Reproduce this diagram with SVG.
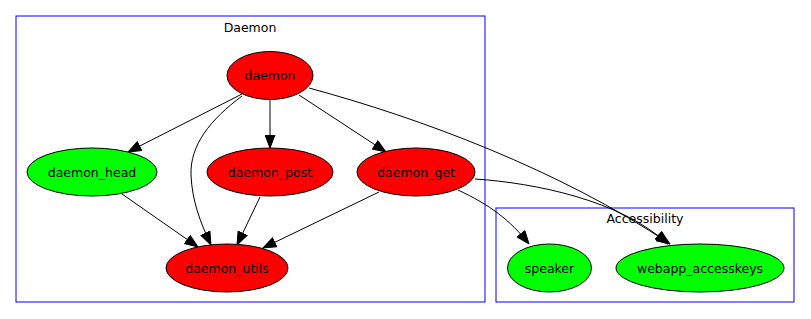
<svg xmlns="http://www.w3.org/2000/svg" width="811" height="319" viewBox="0 0 811 319">
<defs>
<marker id="arr" markerWidth="14" markerHeight="11" refX="13.5" refY="5.5" orient="auto" markerUnits="userSpaceOnUse">
<polygon points="0.5,0.5 13.5,5.5 0.5,10.5" fill="#000" stroke="#000" stroke-width="1"/>
</marker>
</defs>
<style>
text{font-family:"DejaVu Sans",sans-serif;font-size:12.5px;text-anchor:middle;fill:#000}
.cl{fill:none;stroke:#0000ff;stroke-width:1}
.red{fill:#ff0000;stroke:#000;stroke-width:1}
.green{fill:#00ff00;stroke:#000;stroke-width:1}
.e{fill:none;stroke:#000;stroke-width:1;marker-end:url(#arr)}
</style>
<rect width="811" height="319" fill="#fff"/>
<g id="cluster_daemon">
<rect class="cl" x="16" y="16" width="469" height="286"/>
<text x="250" y="32">Daemon</text>
</g>
<g id="cluster_accessibility">
<rect class="cl" x="496" y="208" width="298" height="94"/>
<text x="645" y="223">Accessibility</text>
</g>
<g id="edges">
<path class="e" d="M242,94 L128,152"/>
<path class="e" d="M242,96 C210,120 190,145 191,175 C192,200 200,222 211,245"/>
<path class="e" d="M270,100 L270,148"/>
<path class="e" d="M299,95 L386,152"/>
<path class="e" d="M309,88 C420,118 560,170 670,244"/>
<path class="e" d="M475,179 C535,183 620,200 668,244"/>
<path class="e" d="M458,190 C490,205 510,220 529,244"/>
<path class="e" d="M122,194 L198,247"/>
<path class="e" d="M260,197 L237,245"/>
<path class="e" d="M379,192 L263,248"/>
</g>
<g id="daemon">
<ellipse class="red" cx="270" cy="75.5" rx="43" ry="24"/>
<text x="270" y="80">daemon</text>
</g>
<g id="daemon_head">
<ellipse class="green" cx="92" cy="172" rx="65" ry="24"/>
<text x="92" y="176.5">daemon_head</text>
</g>
<g id="daemon_post">
<ellipse class="red" cx="270" cy="172" rx="63" ry="24"/>
<text x="270" y="176.5">daemon_post</text>
</g>
<g id="daemon_get">
<ellipse class="red" cx="416" cy="172" rx="59" ry="24"/>
<text x="416" y="176.5">daemon_get</text>
</g>
<g id="daemon_utils">
<ellipse class="red" cx="227" cy="268" rx="61" ry="24"/>
<text x="227" y="272.5">daemon_utils</text>
</g>
<g id="speaker">
<ellipse class="green" cx="549.5" cy="268" rx="42" ry="24"/>
<text x="549.5" y="272.5">speaker</text>
</g>
<g id="webapp_accesskeys">
<ellipse class="green" cx="700" cy="268" rx="84" ry="24"/>
<text x="700" y="272.5">webapp_accesskeys</text>
</g>
</svg>
